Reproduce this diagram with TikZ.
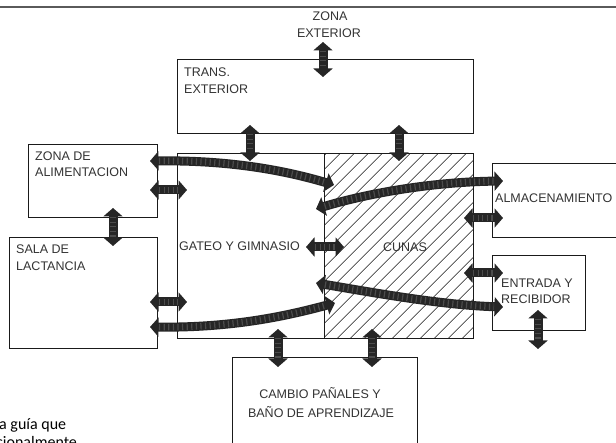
\documentclass[tikz,border=0pt]{standalone}
\usepackage{fontspec}
\setmainfont{Liberation Sans}
\newfontfamily\notefont{Carlito}
\usetikzlibrary{arrows.meta,patterns.meta}
\definecolor{arrowc}{HTML}{262626}
\definecolor{stripec}{HTML}{4C4C4C}
\definecolor{textc}{HTML}{333333}
\definecolor{boxc}{HTML}{1A1A1A}
\definecolor{rulec}{HTML}{5A5A5A}
\begin{document}
\begin{tikzpicture}[x=1pt,y=-1pt,
  box/.style={draw=boxc, line width=1.1pt, inner sep=0pt, anchor=north west, fill=white},
  hatchbox/.style={box, pattern={Lines[angle=45,distance=10.5pt,line width=0.75pt]}, pattern color=black!90},
  lbl/.style={font=\fontsize{12.5}{15}\selectfont, text=textc, inner sep=0pt, anchor=base west},
  clbl/.style={lbl, anchor=base},
  note/.style={font=\notefont\fontsize{16}{18}\selectfont, text=black, inner sep=0pt, anchor=base west},
  dbl/.style={draw=arrowc, line width=9pt,
    {Triangle[width=19pt,length=8.5pt]}-{Triangle[width=19pt,length=8.5pt]},
    postaction={draw=stripec, line width=6.5pt, dash pattern=on 1.2pt off 3.4pt,
      shorten <=9pt, shorten >=9pt, arrows=-}},
  toprule/.style={draw=rulec, line width=1.8pt}
]
\useasboundingbox (0,0) rectangle (616,443);

% top rule
\coordinate (rl) at (0,7);
\coordinate (rr) at (616,7);
\draw[toprule] (rl) -- (rr);

% boxes
\node[box, minimum width=296pt, minimum height=74pt] (trans) at (177,59) {};
\node[box, minimum width=129pt, minimum height=73pt] (zona) at (28,144) {};
\node[box, minimum width=148pt, minimum height=111pt] (sala) at (9,237) {};
\node[box, minimum width=147pt, minimum height=185pt] (gateo) at (177,153) {};
\node[hatchbox, minimum width=149pt, minimum height=185pt] (cunas) at (324,153) {};
\node[box, minimum width=135pt, minimum height=74pt] (almac) at (492,163) {};
\node[box, minimum width=93pt, minimum height=75pt] (entrada) at (492,255) {};
\node[box, minimum width=185pt, minimum height=110pt] (cambio) at (232,357) {};

% labels
\node[clbl] (tz1) at (330,20.5) {ZONA};
\node[clbl] (tz2) at (329,37.5) {EXTERIOR};
\node[lbl] (tt1) at (184,76.5) {TRANS.};
\node[lbl] (tt2) at (184,93.5) {EXTERIOR};
\node[lbl] (ta1) at (35,160.5) {ZONA DE};
\node[lbl] (ta2) at (35,176.5) {ALIMENTACION};
\node[lbl] (ts1) at (16,253.5) {SALA DE};
\node[lbl] (ts2) at (16,270.5) {LACTANCIA};
\node[lbl] (tg) at (179,250.5) {GATEO Y GIMNASIO};
\node[clbl] (tc) at (405,251.5) {CUNAS};
\node[lbl] (tm) at (495,202.5) {ALMACENAMIENTO};
\node[lbl] (te1) at (501,287.5) {ENTRADA Y};
\node[lbl] (te2) at (501,303.5) {RECIBIDOR};
\node[clbl] (tb1) at (320,398.5) {CAMBIO PAÑALES Y};
\node[clbl] (tb2) at (321,417.5) {BAÑO DE APRENDIZAJE};
\node[note] (n1) at (-1,430) {a guía que};
\node[note] (n2) at (-4,448) {cionalmente};

% arrow end points
\coordinate (a1s) at (323,42);  \coordinate (a1e) at (323,77);
\coordinate (a2s) at (250,125); \coordinate (a2e) at (250,161);
\coordinate (a3s) at (399,125); \coordinate (a3e) at (399,161);
\coordinate (a4s) at (150,190); \coordinate (a4e) at (187,190);
\coordinate (a5s) at (150,302); \coordinate (a5e) at (187,302);
\coordinate (a6s) at (113,208); \coordinate (a6e) at (113,246);
\coordinate (a7s) at (306,247); \coordinate (a7e) at (344,247);
\coordinate (a8s) at (464,218); \coordinate (a8e) at (503,218);
\coordinate (a9s) at (464,273); \coordinate (a9e) at (503,273);
\coordinate (b1s) at (278,329); \coordinate (b1e) at (278,367);
\coordinate (b2s) at (372,329); \coordinate (b2e) at (372,367);
\coordinate (b3s) at (538,310); \coordinate (b3e) at (538,349);
\coordinate (c1s) at (150,161); \coordinate (c1e) at (334,185);
\coordinate (c2s) at (316,209); \coordinate (c2e) at (503,181);
\coordinate (c3s) at (316,283); \coordinate (c3e) at (503,307);
\coordinate (c4s) at (150,327); \coordinate (c4e) at (335,303);

% straight double arrows
\draw[dbl] (a1s) -- (a1e);
\draw[dbl] (a2s) -- (a2e);
\draw[dbl] (a3s) -- (a3e);
\draw[dbl] (a4s) -- (a4e);
\draw[dbl] (a5s) -- (a5e);
\draw[dbl] (a6s) -- (a6e);
\draw[dbl] (a7s) -- (a7e);
\draw[dbl] (a8s) -- (a8e);
\draw[dbl] (a9s) -- (a9e);
\draw[dbl] (b1s) -- (b1e);
\draw[dbl] (b2s) -- (b2e);
\draw[dbl] (b3s) -- (b3e);

% curved double arrows
\draw[dbl] (c1s) .. controls (235,160) and (290,172) .. (c1e);
\draw[dbl] (c2s) .. controls (365,194) and (430,182) .. (c2e);
\draw[dbl] (c3s) .. controls (370,292) and (440,305) .. (c3e);
\draw[dbl] (c4s) .. controls (235,328) and (290,315) .. (c4e);
\end{tikzpicture}
\end{document}
